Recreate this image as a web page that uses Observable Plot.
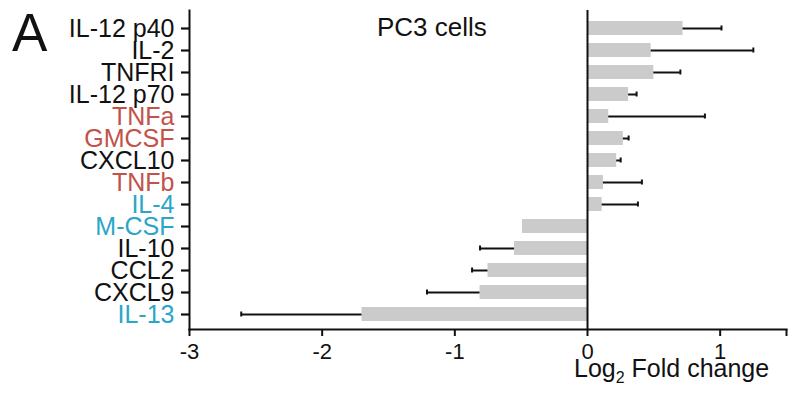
<!DOCTYPE html>
<html>
<head>
<meta charset="utf-8">
<script src="https://cdn.jsdelivr.net/npm/d3@7"></script>
<script src="https://cdn.jsdelivr.net/npm/@observablehq/plot@0.6"></script>
<style>
  html, body { margin: 0; padding: 0; background: #fff; }
  #chart svg { display: block; }
</style>
</head>
<body>
<div id="chart"></div>
<script>
// Cytokines (top to bottom)
const cytokines = ["IL-12 p40", "IL-2", "TNFRI", "IL-12 p70", "TNFa", "GMCSF", "CXCL10", "TNFb", "IL-4", "M-CSF", "IL-10", "CCL2", "CXCL9", "IL-13"];
// Mean log2 fold change
const log2fc = [0.72, 0.48, 0.50, 0.31, 0.16, 0.27, 0.22, 0.12, 0.11, -0.49, -0.55, -0.75, -0.81, -1.70];
// Error (one-sided, away from zero)
const errors = [0.29, 0.77, 0.20, 0.06, 0.725, 0.04, 0.03, 0.29, 0.27, 0, 0.26, 0.12, 0.40, 0.91];
// Label group
const groups = ["other", "other", "other", "other", "pro", "pro", "other", "pro", "anti", "anti", "other", "other", "other", "anti"];
// X ticks
const xTicks = [-3, -2, -1, 0, 1, 1.5];
const xTickLabels = ["-3", "-2", "-1", "0", "1", ""];

const data = cytokines.map((name, i) => ({
  name,
  value: log2fc[i],
  err: errors[i],
  end: log2fc[i] + Math.sign(log2fc[i]) * errors[i],
  group: groups[i]
}));
const withErr = data.filter(d => d.err > 0);

const font = "'Liberation Sans', Arial, Helvetica, sans-serif";
const W = 800, ML = 189, MR = 14;
const xDomain = [-3, 1.5];
// y tick length (8px) expressed in x data units
const tickLen = 8 * (xDomain[1] - xDomain[0]) / (W - ML - MR);

const svg = Plot.plot({
  width: W,
  height: 400,
  marginLeft: ML,
  marginRight: MR,
  marginTop: 10,
  marginBottom: 71,
  style: { fontFamily: font, background: "#fff", color: "#111" },
  x: { domain: xDomain, label: null },
  y: { domain: cytokines, paddingInner: 0.35, paddingOuter: 0.35, insetTop: 3, axis: null },
  color: { domain: ["other", "pro", "anti"], range: ["#111111", "#c2524a", "#2aa6c8"] },
  marks: [
    Plot.barX(data, { y: "name", x1: 0, x2: "value", fill: "#cbcbcb" }),
    Plot.ruleY(withErr, { y: "name", x1: "value", x2: "end", stroke: "#111", strokeWidth: 2 }),
    Plot.tickX(withErr, { y: "name", x: "end", stroke: "#111", strokeWidth: 2, insetTop: 4.5, insetBottom: 4.5 }),
    Plot.ruleX([0], { stroke: "#111", strokeWidth: 2 }),
    Plot.frame({ anchor: "left", stroke: "#111", strokeWidth: 2 }),
    Plot.frame({ anchor: "bottom", stroke: "#111", strokeWidth: 2 }),
    // y-axis ticks
    Plot.ruleY(data, { y: "name", x1: xDomain[0] - tickLen, x2: xDomain[0], stroke: "#111", strokeWidth: 2.2 }),
    Plot.text(data, { y: "name", x: xDomain[0], text: "name", dx: -15, textAnchor: "end", fill: "group", fontSize: 25 }),
    Plot.axisX(xTicks, {
      x: d => d,
      tickSize: 7, strokeWidth: 2, stroke: "#111", tickPadding: 7,
      tickFormat: d => xTickLabels[xTicks.indexOf(d)],
      fontSize: 22, fill: "#111", label: null
    })
  ]
});

const s = d3.select(svg);
s.append("text")
  .attr("x", 12).attr("y", 51).attr("text-anchor", "start")
  .attr("font-family", font).attr("font-size", 53).attr("fill", "#111")
  .text("A");
s.append("text")
  .attr("x", 377).attr("y", 36).attr("text-anchor", "start")
  .attr("font-family", font).attr("font-size", 26).attr("fill", "#111")
  .text("PC3 cells");
const t = s.append("text")
  .attr("x", 574).attr("y", 377).attr("text-anchor", "start")
  .attr("font-family", font).attr("font-size", 25).attr("fill", "#111");
t.append("tspan").text("Log");
t.append("tspan").attr("font-size", 16).attr("dy", 6).text("2");
t.append("tspan").attr("dy", -6).text(" Fold change");

document.getElementById("chart").appendChild(svg);
</script>
</body>
</html>
